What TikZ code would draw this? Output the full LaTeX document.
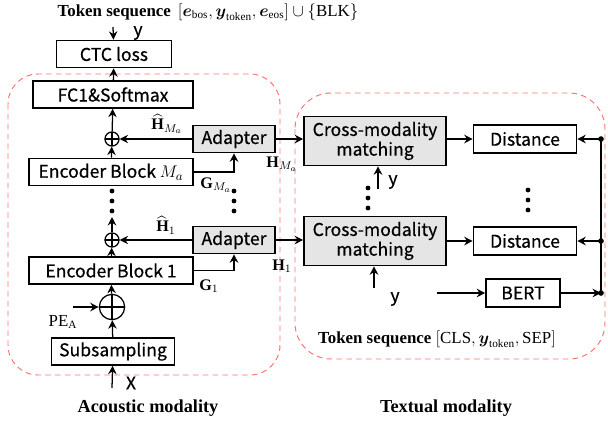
\documentclass[tikz,border=0pt]{standalone}
\usepackage{amsmath}
\usepackage{fontspec}
\setmainfont{Liberation Serif}
\newfontfamily\boxfont{Noto Sans CJK JP}[FakeBold=0.5]
\usetikzlibrary{arrows.meta}
\tikzset{
  blk/.style={draw, line width=1.1pt, inner sep=0pt, minimum height=0.675cm,
    font=\boxfont\fontsize{12.5}{14}\selectfont, align=center},
  graybk/.style={blk, fill=gray!20},
  arr/.style={line width=0.9pt, -{Stealth[length=6pt,width=6pt,inset=2pt]}},
  link/.style={line width=0.9pt},
  sumnode/.style={circle, draw, line width=0.9pt, inner sep=0pt, minimum size=#1,
    path picture={\draw[line width=0.9pt] (path picture bounding box.north) -- (path picture bounding box.south)
      (path picture bounding box.west) -- (path picture bounding box.east);}},
  modal/.style={draw=red!55!white, dashed, line width=0.7pt, dash pattern=on 4pt off 3pt},
  lbl/.style={inner sep=0pt, font=\fontsize{11.5}{13}\selectfont},
  ylbl/.style={inner sep=0pt, font=\boxfont\fontsize{12.5}{14}\selectfont},
  title/.style={inner sep=0pt, font=\bfseries\fontsize{13}{15}\selectfont}
}
\begin{document}
\begin{tikzpicture}[x=0.025cm, y=-0.025cm]
\useasboundingbox (0,0) rectangle (608,423);

% modality frames
\draw[modal, rounded corners=0.75cm] (8,74) rectangle (280,375);
\draw[modal, rounded corners=0.9cm] (295,93) rectangle (605,359);

% acoustic side
\node[blk, minimum width=2.875cm] (ctc) at (114,54) {CTC loss};
\node[blk, minimum width=4cm] (fc) at (113,94.5) {FC1\&Softmax};
\node[sumnode=10pt] (sumM) at (112,139) {};
\node[graybk, minimum width=2.05cm] (adM) at (234,139) {Adapter};
\node[blk, minimum width=4.1cm] (encM) at (111,172) {Encoder Block $M_a$};
\node[sumnode=10pt] (sum1) at (112,240) {};
\node[graybk, minimum width=2.05cm] (ad1) at (234,240) {Adapter};
\node[blk, minimum width=4.1cm] (enc1) at (111,270.5) {Encoder Block 1};
\node[sumnode=18pt] (pe) at (112,307) {};
\node[blk, minimum width=3.075cm] (sub) at (113,351.5) {Subsampling};

\coordinate (xin) at (112,388);
\coordinate (yin) at (113,27);
\coordinate (peIn) at (73,307);
\coordinate (dotsA) at (112,217);

% vertical dots
\foreach \y in {191,201,211} {
  \fill (112,\y) circle (1.7pt);
  \fill (234,\y) circle (1.7pt);
  \fill (368,\y-3) circle (1.7pt);
  \fill (528,\y-1) circle (1.7pt);
}

\draw[arr] (xin) -- (sub);
\draw[arr] (sub) -- (pe);
\draw[arr] (peIn) -- (pe);
\draw[arr] (pe) -- (enc1);
\draw[arr] (enc1) -- (sum1);
\draw[arr] (sum1) -- (dotsA);
\draw[arr] (encM) -- (sumM);
\draw[arr] (sumM) -- (fc);
\draw[arr] (fc) -- (ctc);
\draw[arr] (yin) -- (ctc);
\draw[arr] (enc1.east) -| (ad1.south);
\draw[arr] (encM.east) -| (adM.south);
\draw[arr] (ad1) -- (sum1);
\draw[arr] (adM) -- (sumM);

% textual side
\node[graybk, minimum width=3.55cm, minimum height=1.225cm] (cmmM) at (375,141) {Cross-modality\\matching};
\node[graybk, minimum width=3.55cm, minimum height=1.225cm] (cmm1) at (375,241) {Cross-modality\\matching};
\node[blk, minimum width=2.575cm, minimum height=0.7cm] (distM) at (525,139) {Distance};
\node[blk, minimum width=2.575cm, minimum height=0.7cm] (dist1) at (525,241) {Distance};
\node[blk, minimum width=1.85cm, minimum height=0.7cm] (bert) at (523,293) {BERT};

\coordinate (jM) at (601,139);
\coordinate (j1) at (601,241);
\coordinate (jB) at (601,293);
\coordinate (yM) at (378,189);
\coordinate (y1) at (374,288);
\coordinate (bertIn) at (437,293);

\draw[arr] (adM.east) -- (adM.east -| cmmM.west);
\draw[arr] (ad1.east) -- (ad1.east -| cmm1.west);
\draw[arr] (cmmM.east |- distM) -- (distM);
\draw[arr] (cmm1.east |- dist1) -- (dist1);
\draw[arr] (yM) -- (yM |- cmmM.south);
\draw[arr] (y1) -- (y1 |- cmm1.south);
\draw[arr] (bertIn) -- (bert);
\draw[arr] (bert) -- (jB);
\draw[link] (jB) -- (jM);
\draw[arr] (jM) -- (distM);
\draw[arr] (j1) -- (dist1);
\foreach \c in {jM,j1,jB} \fill (\c) circle (2pt);

% labels
\node[title, font=\bfseries\fontsize{12}{14}\selectfont] (ttop) at (208,12) {Token sequence \,$[\boldsymbol{e}_{\mathrm{bos}}, \boldsymbol{y}_{\mathrm{token}}, \boldsymbol{e}_{\mathrm{eos}}] \cup \{\mathrm{BLK}\}$};
\node[ylbl] (ytop) at (138,33) {y};
\node[lbl] (hhatM) at (167,124) {$\widehat{\mathbf{H}}_{M_a}$};
\node[lbl] (hM) at (282,164) {$\mathbf{H}_{M_a}$};
\node[lbl] (gM) at (216,185) {$\mathbf{G}_{M_a}$};
\node[lbl] (hhat1) at (166,225) {$\widehat{\mathbf{H}}_1$};
\node[lbl] (h1) at (282,266) {$\mathbf{H}_1$};
\node[lbl] (g1) at (209,286) {$\mathbf{G}_1$};
\node[lbl, font=\fontsize{12}{14}\selectfont] (pelbl) at (63,322) {PE$_{\mathrm{A}}$};
\node[ylbl] (xlbl) at (131,383) {X};
\node[ylbl] (ylblM) at (393,182) {y};
\node[ylbl] (ylbl1) at (395,299) {y};
\node[title, font=\fontsize{12}{14}\selectfont] (tbot) at (437,339) {\textbf{Token sequence} $[\mathrm{CLS}, \boldsymbol{y}_{\mathrm{token}}, \mathrm{SEP}]$};
\node[title] (acoustic) at (148,408) {Acoustic modality};
\node[title] (textual) at (446,408) {Textual modality};
\end{tikzpicture}
\end{document}
